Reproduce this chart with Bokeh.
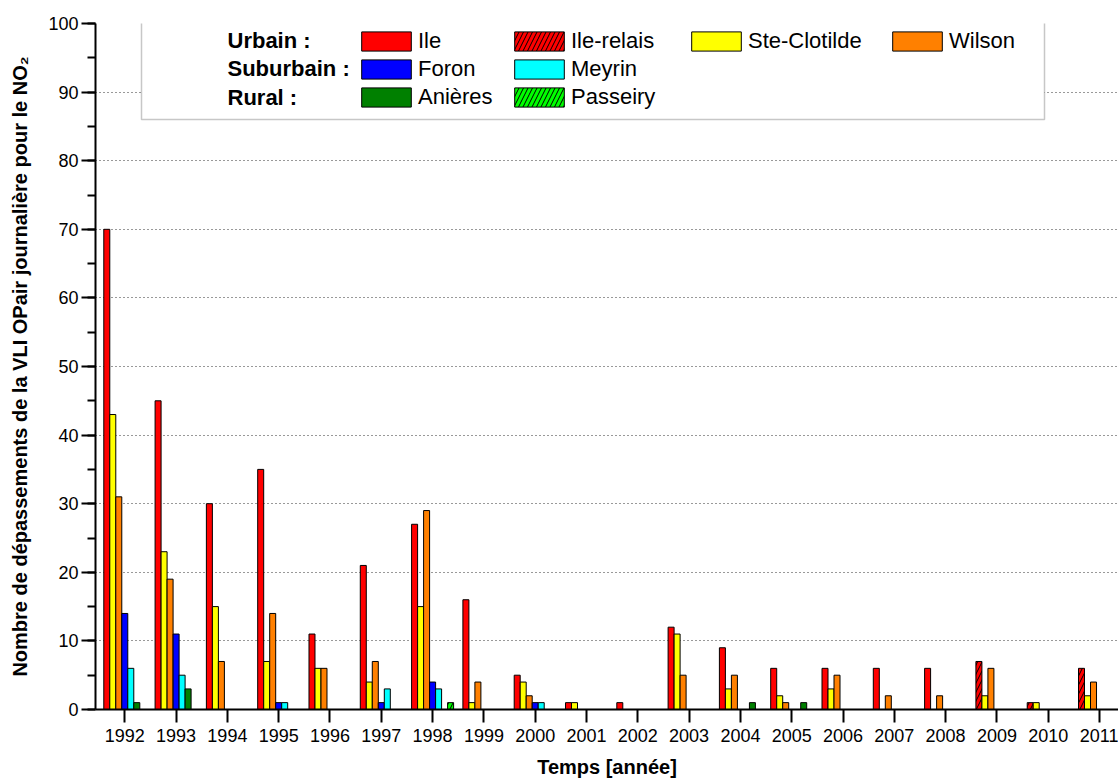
from bokeh.plotting import figure
from bokeh.models import (Range1d, FixedTicker, SingleIntervalTicker, ColumnDataSource,
                          CDSView, BooleanFilter, Legend, LegendItem, Label,
                          BoxAnnotation, BasicTickFormatter)
from bokeh.transform import dodge
from bokeh.embed import file_html
from bokeh.resources import INLINE

# ---------------- data ----------------
years = list(range(1992, 2012))
ile          = [70, 45, 30, 35, 11, 21, 27, 16, 5, 1, 1, 12, 9, 6, 6, 6, 6, 0, 0, 0]
ile_relais   = [0, 0, 0, 0, 0, 0, 0, 0, 0, 0, 0, 0, 0, 0, 0, 0, 0, 7, 1, 6]
ste_clotilde = [43, 23, 15, 7, 6, 4, 15, 1, 4, 1, 0, 11, 3, 2, 3, 0, 0, 2, 1, 2]
wilson       = [31, 19, 7, 14, 6, 7, 29, 4, 2, 0, 0, 5, 5, 1, 5, 2, 2, 6, 0, 4]
foron        = [14, 11, 0, 1, 0, 1, 4, 0, 1, 0, 0, 0, 0, 0, 0, 0, 0, 0, 0, 0]
meyrin       = [6, 5, 0, 1, 0, 3, 3, 0, 1, 0, 0, 0, 0, 0, 0, 0, 0, 0, 0, 0]
anieres      = [1, 3, 0, 0, 0, 0, 0, 0, 0, 0, 0, 0, 1, 1, 0, 0, 0, 0, 0, 0]
passeiry     = [0, 0, 0, 0, 0, 0, 1, 0, 0, 0, 0, 0, 0, 0, 0, 0, 0, 0, 0, 0]

series_names = ["Ile", "Ile-relais", "Ste-Clotilde", "Wilson", "Foron", "Meyrin", "Anières", "Passeiry"]
series_values = [ile, ile_relais, ste_clotilde, wilson, foron, meyrin, anieres, passeiry]
group_labels = ["Urbain :", "Suburbain :", "Rural :"]

x_title = "Temps [année]"
y_title = "Nombre de dépassements de la VLI OPair journalière pour le NO₂"

# ---------------- style ----------------
FONT = "Liberation Sans"
colors = {"Ile": "#FF0000", "Ile-relais": "#FF0000", "Ste-Clotilde": "#FFFF00",
          "Wilson": "#FF8000", "Foron": "#0000FF", "Meyrin": "#00FFFF",
          "Anières": "#008000", "Passeiry": "#00FF00"}
hatched = {"Ile-relais", "Passeiry"}
slot = {"Ile": 0, "Ile-relais": 0, "Ste-Clotilde": 1, "Wilson": 2, "Foron": 3,
        "Meyrin": 4, "Anières": 5, "Passeiry": 6}
BAR_W = 0.117

p = figure(width=1118, height=783, output_backend="svg", toolbar_location=None,
           x_range=Range1d(1991.429, 2011.37), y_range=Range1d(0, 100),
           min_border_left=95, min_border_right=0, min_border_top=23, min_border_bottom=74)
p.outline_line_color = None
p.background_fill_color = "white"
p.border_fill_color = "white"

data = {"year": years}
for n, v in zip(series_names, series_values):
    data[n] = v
source = ColumnDataSource(data)

renderers = {}
for n, v in zip(series_names, series_values):
    view = CDSView(filter=BooleanFilter(booleans=[val > 0 for val in v]))
    kw = {}
    if n in hatched:
        kw = dict(hatch_pattern="/", hatch_color="black", hatch_scale=9, hatch_weight=1)
    r = p.vbar(x=dodge("year", (slot[n] - 3) * BAR_W, range=p.x_range), top=n, width=BAR_W,
               bottom=0, source=source, view=view, fill_color=colors[n],
               line_color="black", line_width=1, **kw)
    renderers[n] = r

# axes
for ax in (p.xaxis[0], p.yaxis[0]):
    ax.axis_line_width = 2
    ax.axis_line_color = "black"
    ax.major_tick_line_width = 2
    ax.minor_tick_line_width = 2
    ax.major_tick_line_color = "black"
    ax.minor_tick_line_color = "black"
    ax.major_tick_in = 0
    ax.minor_tick_in = 0
    ax.major_label_text_font = FONT
    ax.major_label_text_font_size = "18px"
    ax.major_label_text_color = "black"
    ax.axis_label_text_font = FONT
    ax.axis_label_text_font_size = "20px"
    ax.axis_label_text_font_style = "bold"
    ax.axis_label_text_color = "black"

p.xaxis.ticker = FixedTicker(ticks=years)
p.xaxis.formatter = BasicTickFormatter(use_scientific=False)
p.xaxis.major_tick_out = 13
p.xaxis.major_label_standoff = 6
p.xaxis.axis_label = x_title
p.xaxis.axis_label_standoff = 11

p.yaxis.ticker = SingleIntervalTicker(interval=10, num_minor_ticks=2)
p.yaxis.major_tick_out = 14
p.yaxis.minor_tick_out = 8
p.yaxis.major_label_standoff = 3
p.yaxis.axis_label = y_title
p.yaxis.axis_label_standoff = 14

p.xgrid.visible = False
p.ygrid.ticker = FixedTicker(ticks=[10, 20, 30, 40, 50, 60, 70, 80, 90])
p.ygrid.grid_line_color = "#333333"
p.ygrid.grid_line_dash = "1 3"
p.ygrid.grid_line_width = 1

# legend frame
box = BoxAnnotation(left=46, right=949, top=692, bottom=590,
                    left_units="screen", right_units="screen",
                    top_units="screen", bottom_units="screen",
                    fill_color="white", fill_alpha=1.0,
                    line_color="#444444", line_width=1.5)
p.add_layout(box)

columns = [["Ile", "Foron", "Anières"], ["Ile-relais", "Meyrin", "Passeiry"],
           ["Ste-Clotilde"], ["Wilson"]]
col_x = [260, 413, 590, 791]
ITEM_H = 26
SPACING = 2
legend_top = 681
for names, cx in zip(columns, col_x):
    items = [LegendItem(label=n, renderers=[renderers[n]]) for n in names]
    h = len(names) * ITEM_H + (len(names) - 1) * SPACING
    lg = Legend(items=items, location=(cx, legend_top - h), orientation="vertical",
                glyph_width=62, glyph_height=24, label_height=ITEM_H, label_standoff=1,
                spacing=SPACING, padding=0, margin=0, border_line_color=None,
                background_fill_alpha=0, label_text_font=FONT,
                label_text_font_size="22px", label_text_color="black")
    p.add_layout(lg)

row_y = [669, 641, 612]
for txt, yy in zip(group_labels, row_y):
    p.add_layout(Label(x=132, y=yy, x_units="screen", y_units="screen", text=txt,
                       text_font=FONT, text_font_size="22px", text_font_style="bold",
                       text_baseline="middle", text_color="black"))

open("out.html", "w").write(file_html(p, INLINE))
